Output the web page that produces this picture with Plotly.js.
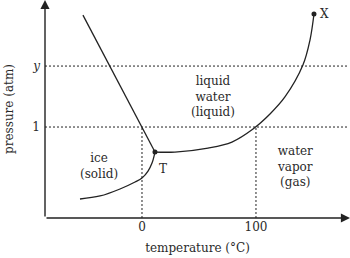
<!DOCTYPE html>
<html><head><meta charset="utf-8">
<script src="https://cdn.plot.ly/plotly-3.0.1.min.js"></script>
<style>html,body{margin:0;padding:0;background:#fff}</style>
</head><body>
<div id="chart" style="width:350px;height:258px"></div>
<script>
// Phase diagram of water (schematic values)
const sublimationT = [-54.4, -36.8, -19.3, -6.1, 0, 5.3, 8.8, 11.4];
const sublimationP = [0.209, 0.242, 0.319, 0.396, 0.44, 0.516, 0.604, 0.725];
const meltingT = [-51.8, 11.4];
const meltingP = [2.23, 0.725];
const vaporT = [11.4, 28.9, 57.9, 78.9, 97.4, 112.3, 125.4, 141.2, 147.4, 150.9];
const vaporP = [0.725, 0.725, 0.769, 0.835, 0.978, 1.143, 1.330, 1.681, 1.956, 2.242];
const pointT = [11.4, 150.9];
const pointP = [0.725, 2.242];
const pointNames = ['T', 'X'];
const xTickVals = [0, 100];
const xTickText = ['0', '100'];
const yTickVals = [1, 1.67];
const yTickText = ['1', '<i>y</i>'];
const xRange = [-85.1, 182.5];
const yRange = [0, 2.396];

const ink = '#222';
const lineStyle = {color: ink, width: 1.3};
const dashStyle = {color: ink, width: 1, dash: '2px,2px'};

const traces = [
  {x: [xRange[0], 180], y: [yTickVals[0], yTickVals[0]], mode: 'lines', line: dashStyle, hoverinfo: 'skip'},
  {x: [xRange[0], 180], y: [yTickVals[1], yTickVals[1]], mode: 'lines', line: dashStyle, hoverinfo: 'skip'},
  {x: [xTickVals[0], xTickVals[0]], y: [0, yTickVals[0]], mode: 'lines', line: dashStyle, hoverinfo: 'skip'},
  {x: [xTickVals[1], xTickVals[1]], y: [0, yTickVals[0]], mode: 'lines', line: dashStyle, hoverinfo: 'skip'},
  {x: sublimationT, y: sublimationP, mode: 'lines', line: Object.assign({shape: 'spline'}, lineStyle)},
  {x: meltingT, y: meltingP, mode: 'lines', line: lineStyle},
  {x: vaporT, y: vaporP, mode: 'lines', line: Object.assign({shape: 'spline'}, lineStyle)},
  {x: pointT, y: pointP, mode: 'markers', marker: {color: ink, size: 5}}
];

const font = {family: 'DejaVu Serif, serif', size: 12, color: '#2a2a2a'};

const annotations = [
  {x: xRange[1], y: 0, ax: xRange[0], ay: 0, axref: 'x', ayref: 'y', xref: 'x', yref: 'y',
   text: '', showarrow: true, arrowhead: 2, arrowsize: 1.3, arrowwidth: 1.4, arrowcolor: ink},
  {x: xRange[0], y: yRange[1], ax: xRange[0], ay: 0, axref: 'x', ayref: 'y', xref: 'x', yref: 'y',
   text: '', showarrow: true, arrowhead: 2, arrowsize: 1.3, arrowwidth: 1.4, arrowcolor: ink},
  {x: 62, y: 1.34, text: 'liquid<br>water<br>(liquid)', showarrow: false, font: font},
  {x: -38, y: 0.57, text: 'ice<br>(solid)', showarrow: false, font: font},
  {x: 134, y: 0.57, text: 'water<br>vapor<br>(gas)', showarrow: false, font: font},
  {x: pointT[0], y: pointP[0], text: pointNames[0], showarrow: false, font: font, xanchor: 'left', yanchor: 'top', xshift: 2, yshift: -8},
  {x: pointT[1], y: pointP[1], text: pointNames[1], showarrow: false, font: font, xanchor: 'left', xshift: 4}
];

const layout = {
  width: 350, height: 258,
  margin: {l: 45, r: 0, t: 0, b: 40},
  paper_bgcolor: '#fff', plot_bgcolor: '#fff',
  showlegend: false,
  font: font,
  xaxis: {range: xRange, showgrid: false, zeroline: false, showline: false,
          tickmode: 'array', tickvals: xTickVals, ticktext: xTickText, ticks: '',
          title: {text: 'temperature (°C)', font: font, standoff: 10}, automargin: false, fixedrange: true},
  yaxis: {range: yRange, showgrid: false, zeroline: false, showline: false,
          tickmode: 'array', tickvals: yTickVals, ticktext: yTickText, ticks: '', ticklabelstandoff: 4,
          title: {text: 'pressure (atm)', font: font, standoff: 16}, automargin: false, fixedrange: true},
  annotations: annotations
};

Plotly.newPlot('chart', traces, layout, {staticPlot: true, displayModeBar: false});
</script>
</body></html>
